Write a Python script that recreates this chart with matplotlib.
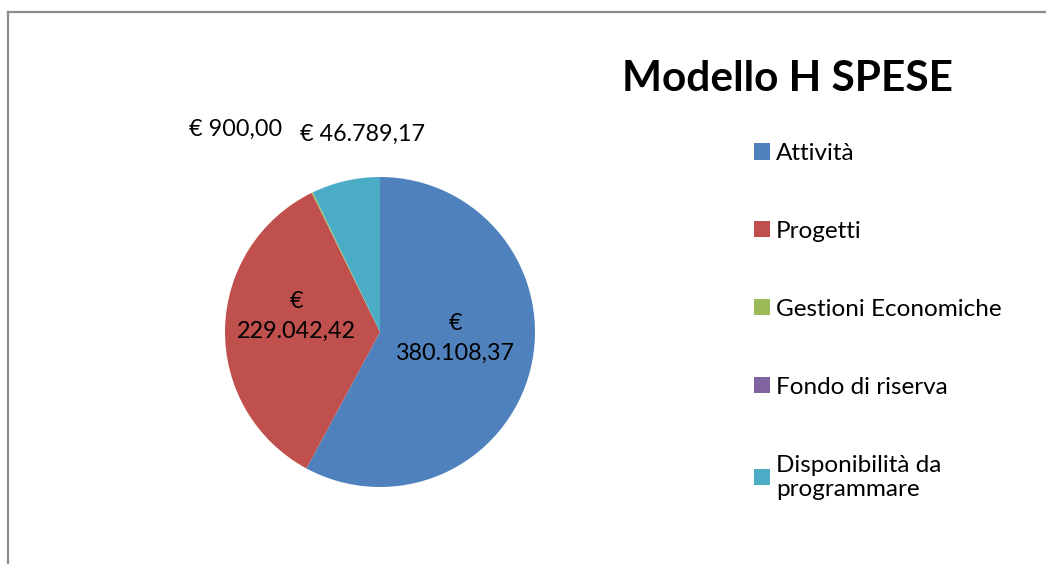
import numpy as np
import matplotlib
matplotlib.use('Agg')
import matplotlib.pyplot as plt
from matplotlib.lines import Line2D

plt.rcParams['font.family'] = ['Lato', 'DejaVu Sans']

# data
categories = ['Attività', 'Progetti', 'Gestioni Economiche', 'Fondo di riserva',
              'Disponibilità da\nprogrammare']
values = [380108.37, 229042.42, 900.00, 0.0, 46789.17]
colors = ['#4F81BD', '#C0504D', '#9BBB59', '#8064A2', '#4BACC6']
title = 'Modello H SPESE'


def euro(v):
    s = '{:,.2f}'.format(v)
    return '€ ' + s.replace(',', 'X').replace('.', ',').replace('X', '.')


W, H = 1046, 564
fig = plt.figure(figsize=(W / 100, H / 100), dpi=100)

cx, cy, r = 380, 332, 155
ax = fig.add_axes([(cx - r) / W, (H - cy - r) / H, 2 * r / W, 2 * r / H])
wedges, _ = ax.pie(values, colors=colors, startangle=90, counterclock=False,
                   radius=1.0, wedgeprops=dict(linewidth=0))
ax.set_xlim(-1, 1)
ax.set_ylim(-1, 1)
ax.set_aspect('equal')

# labels: inside for the big slices, outside for the small ones
for i, w in enumerate(wedges):
    if values[i] == 0:
        continue
    ang = np.deg2rad((w.theta1 + w.theta2) / 2)
    if i == 0:
        x, y = 0.5 * np.cos(ang), 0.5 * np.sin(ang) + 0.08
        txt = euro(values[i]).replace('€ ', '€\n')
    elif i == 1:
        x, y = 0.55 * np.cos(ang) + 0.01, 0.55 * np.sin(ang) + 0.09
        txt = euro(values[i]).replace('€ ', '€\n')
    elif i == 2:
        a = np.deg2rad(125)
        x, y = 1.62 * np.cos(a), 1.62 * np.sin(a) - 0.02
        txt = euro(values[i])
    else:
        a = np.deg2rad(95)
        x, y = 1.3 * np.cos(a), 1.3 * np.sin(a) - 0.02
        txt = euro(values[i])
    ax.text(x, y, txt, ha='center', va='center', fontsize=16.8,
            linespacing=1.5, clip_on=False)

fig.text(788 / W, 1 - 79 / H, title, ha='center', va='center',
         fontsize=30.5, fontweight='bold')

leg = fig.legend(wedges, categories, loc='upper left',
                 bbox_to_anchor=(754 / W, 1 - 143 / H), frameon=False,
                 fontsize=17.5, handlelength=0.65, handleheight=0.65,
                 handletextpad=0.25, labelspacing=2.34, borderaxespad=0,
                 borderpad=0)

# chart area border (left and top visible)
gray = '#8c8c8c'
fig.add_artist(Line2D([8 / W, 8 / W], [0, 1 - 12 / H], color=gray, lw=1.6))
fig.add_artist(Line2D([8 / W, 1], [1 - 12 / H, 1 - 12 / H], color=gray, lw=1.6))

fig.savefig('out.png', dpi=100)
